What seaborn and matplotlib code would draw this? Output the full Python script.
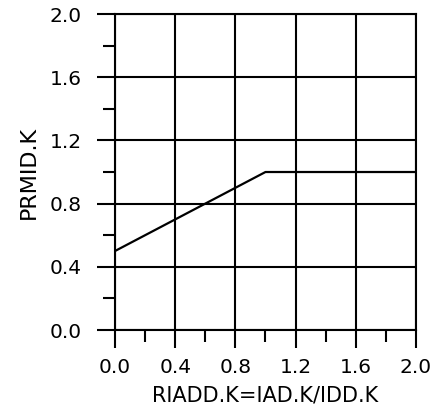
import numpy as np
import matplotlib
matplotlib.use('Agg')
import matplotlib.pyplot as plt
from matplotlib.ticker import MultipleLocator
import seaborn as sns
import pandas as pd

sns.set_theme(style='white')
plt.rcParams['font.family'] = ['DejaVu Sans']

# Table function
riadd = [0.0, 1.0, 2.0]
prmid = [0.5, 1.0, 1.0]
major_ticks = [0.0, 0.4, 0.8, 1.2, 1.6, 2.0]
tick_labels = ['0.0', '0.4', '0.8', '1.2', '1.6', '2.0']

df = pd.DataFrame({'RIADD': riadd, 'PRMID': prmid})

fig = plt.figure(figsize=(4.33, 4.12), dpi=100)
ax = fig.add_axes([0.2656, 0.199, 0.695, 0.767])

sns.lineplot(x='RIADD', y='PRMID', data=df, color='black', linewidth=1.6, ax=ax)

ax.set_xlim(0, 2.0)
ax.set_ylim(0, 2.0)
ax.set_xticks(major_ticks)
ax.set_xticklabels(tick_labels)
ax.set_yticks(major_ticks)
ax.set_yticklabels(tick_labels)
ax.xaxis.set_minor_locator(MultipleLocator(0.2))
ax.yaxis.set_minor_locator(MultipleLocator(0.2))

ax.grid(True, which='major', color='black', linewidth=1.5)
for s in ax.spines.values():
    s.set_color('black')
    s.set_linewidth(1.5)

ax.tick_params(which='major', direction='out', length=13, width=1.5, color='black', labelsize=14.5, labelcolor='black')
ax.tick_params(axis='y', which='major', pad=11)
ax.tick_params(axis='x', which='major', pad=7)
ax.tick_params(which='minor', direction='out', length=8.5, width=1.5, color='black', bottom=True, left=True)
ax.tick_params(bottom=True, left=True)

ax.set_xlabel('RIADD.K=IAD.K/IDD.K', fontsize=15, color='black', labelpad=6)
ax.set_ylabel('PRMID.K', fontsize=16, color='black', labelpad=8)

fig.savefig('out.png', dpi=100)
